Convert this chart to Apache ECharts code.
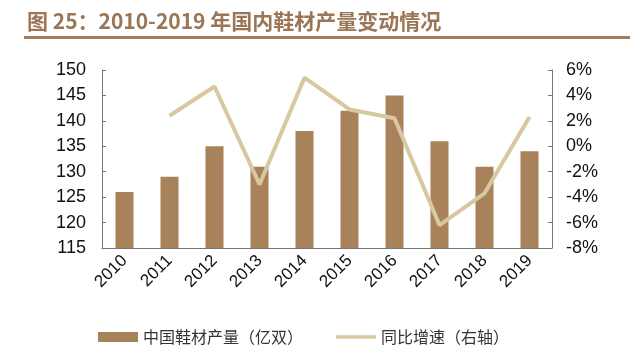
<!DOCTYPE html>
<html>
<head>
<meta charset="utf-8">
<script src="https://cdn.jsdelivr.net/npm/echarts@6/dist/echarts.min.js"></script>
<style>
  html, body { margin: 0; padding: 0; background: #fff; }
  #chart { width: 640px; height: 358px; }
</style>
</head>
<body>
<div id="chart"></div>
<script>
// 数据
var years = ["2010", "2011", "2012", "2013", "2014", "2015", "2016", "2017", "2018", "2019"];
var output = [126, 129, 135, 131, 138, 142, 145, 136, 131, 134];          // 中国鞋材产量（亿双）
var growth = [null, 2.4, 4.7, -3.0, 5.4, 2.9, 2.2, -6.2, -3.7, 2.3];     // 同比增速（%）

var barColor = "#a8825a";
var lineColor = "#d8c8a0";
var font = "Liberation Sans, Arial, sans-serif";

var myChart = echarts.init(document.getElementById("chart"));
myChart.setOption({
    animation: false,
    title: {
        text: "图 25：2010-2019 年国内鞋材产量变动情况",
        left: 22,
        top: 6,
        textStyle: {
            color: "#9a7656",
            fontSize: 21,
            fontWeight: "bold",
            fontFamily: "Noto Sans CJK SC, sans-serif"
        }
    },
    graphic: [{
        type: "rect",
        shape: { x: 24, y: 36, width: 606, height: 3 },
        style: { fill: "#a47b5c" }
    }],
    grid: { left: 102, right: 88, top: 70, bottom: 110 },
    legend: {
        bottom: 8,
        left: 93,
        itemGap: 33,
        itemWidth: 40,
        itemHeight: 10,
        textStyle: { fontSize: 16, color: "#333", fontFamily: "Noto Sans CJK SC, sans-serif" },
        data: [
            { name: "中国鞋材产量（亿双）", icon: "rect" },
            // 细线图例
            { name: "同比增速（右轴）", icon: "path://M0,0 L40,0 L40,3.5 L0,3.5 Z" }
        ]
    },
    xAxis: {
        type: "category",
        data: years,
        axisLine: { onZero: false, lineStyle: { color: "#777" } },
        axisTick: { inside: true, length: 4, lineStyle: { color: "#777" } },
        axisLabel: { rotate: 45, fontSize: 17, color: "#111", fontFamily: font, margin: 10 }
    },
    yAxis: [{
        type: "value",
        min: 115,
        max: 150,
        interval: 5,
        splitLine: { show: false },
        axisLine: { show: true, lineStyle: { color: "#777" } },
        axisTick: { show: true, inside: true, length: 4, lineStyle: { color: "#777" } },
        axisLabel: { fontSize: 18, color: "#111", fontFamily: font, margin: 16 }
    }, {
        type: "value",
        min: -8,
        max: 6,
        interval: 2,
        splitLine: { show: false },
        axisLine: { show: true, lineStyle: { color: "#777" } },
        axisTick: { show: true, inside: true, length: 4, lineStyle: { color: "#777" } },
        axisLabel: { fontSize: 18, color: "#111", fontFamily: font, margin: 14, formatter: "{value}%" }
    }],
    series: [{
        name: "中国鞋材产量（亿双）",
        type: "bar",
        data: output,
        barWidth: 18,
        itemStyle: { color: barColor }
    }, {
        name: "同比增速（右轴）",
        type: "line",
        yAxisIndex: 1,
        data: growth,
        symbol: "none",
        lineStyle: { color: lineColor, width: 4 },
        itemStyle: { color: lineColor }
    }]
});
</script>
</body>
</html>
